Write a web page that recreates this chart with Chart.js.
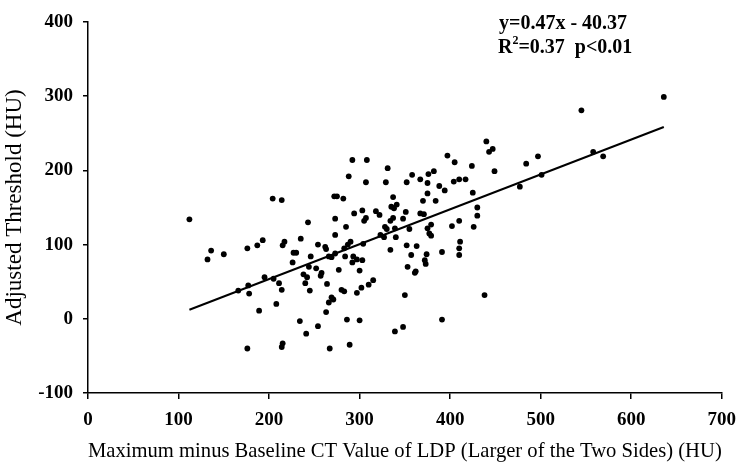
<!DOCTYPE html>
<html>
<head>
<meta charset="utf-8">
<script src="https://cdn.jsdelivr.net/npm/chart.js@4"></script>
<style>
	html, body { margin: 0; padding: 0; background: #fff; }
	#wrap { width: 746px; height: 468px; }
</style>
</head>
<body>
<div id="wrap"><canvas id="chart" width="746" height="468"></canvas></div>
<script>
// values, point by point
const xValues = [
	112, 136, 132, 150, 176, 187, 166, 177, 178, 189, 176,
	292, 308, 397, 405, 331, 288, 307, 329, 352, 358, 367, 376, 382, 375, 388, 394, 404,
	204, 214, 272, 275, 282, 337, 375, 370, 384,
	335, 338, 341, 294, 303, 307, 305, 318, 322,
	273, 243, 337, 334, 348, 351, 367, 371,
	379, 402, 285, 273, 328, 330, 323, 327, 339, 340, 355, 375, 377, 379,
	235, 193, 217, 215, 254, 262, 263, 290, 287, 283, 304, 334, 352, 363, 391,
	227, 230, 246, 266, 269, 273, 284, 293, 297, 303, 292, 357, 374, 372, 373,
	226, 244, 252, 258, 257, 277, 300, 353, 362, 361,
	195, 205, 211, 214, 238, 242, 240, 245, 264, 280, 283, 297, 302, 310, 315,
	269, 266, 271, 208, 263, 350, 234, 254, 241, 286, 300, 339, 348, 391, 215, 214, 267, 289,
	545, 440, 447, 443, 424, 449, 484, 497, 410, 417, 425, 430, 430, 426, 410, 411, 410, 410, 438, 477, 501, 558, 569, 636
]
const yValues = [
	134, 92, 80, 87, 95, 99, 38, 45, 34, 11, -40,
	214, 214, 220, 211, 203, 192, 184, 184, 184, 194, 188, 195, 199, 183, 179, 173, 185,
	162, 160, 165, 165, 162, 164, 169, 159, 159,
	151, 149, 154, 142, 146, 136, 132, 145, 140,
	135, 130, 136, 132, 135, 144, 142, 141,
	127, 125, 124, 113, 124, 121, 113, 110, 122, 110, 121, 122, 115, 112,
	108, 106, 104, 99, 100, 97, 94, 104, 100, 95, 101, 93, 99, 98, 90,
	89, 89, 84, 84, 83, 88, 84, 84, 80, 79, 76, 86, 87, 79, 74,
	76, 70, 68, 62, 58, 66, 65, 70, 64, 62,
	56, 54, 48, 39, 60, 56, 48, 38, 47, 39, 37, 35, 42, 46, 52,
	29, 22, 26, 20, 9, 32, -3, -10, -20, -1, -2, -17, -11, -1, -33, -38, -40, -35,
	281, 239, 229, 225, 206, 199, 209, 219, 188, 188, 170, 150, 139, 124, 132, 104, 95, 86, 32, 178, 194, 225, 219, 299
]

// fitted line as printed on the chart
const slope = 0.47
const intercept = -40.37
const equationText = "y=0.47x - 40.37"
const statsText = ["R", "2", "=0.37  p<0.01"]

const xTicks = [0, 100, 200, 300, 400, 500, 600, 700]
const yTicks = [-100, 0, 100, 200, 300, 400]

const serif = "'Liberation Serif', 'Times New Roman', serif"

var points = xValues.map((x, i) => ({ x: x, y: yValues[i] }))
var xMin = Math.min(...xValues)
var xMax = Math.max(...xValues)
var fitLine = [
	{ x: xMin, y: slope * xMin + intercept },
	{ x: xMax, y: slope * xMax + intercept },
]

const equationPlugin = {
	id: 'equation',
	afterDraw(chart) {
		const ctx = chart.ctx
		ctx.save()
		ctx.fillStyle = '#000'
		ctx.textBaseline = 'alphabetic'
		ctx.font = 'bold 20px ' + serif
		ctx.fillText(equationText, 499, 29)
		var x = 498
		ctx.fillText(statsText[0], x, 53)
		x += ctx.measureText(statsText[0]).width
		ctx.font = 'bold 12px ' + serif
		ctx.fillText(statsText[1], x, 44)
		x += ctx.measureText(statsText[1]).width
		ctx.font = 'bold 20px ' + serif
		ctx.fillText(statsText[2], x, 53)
		ctx.restore()
	}
}

new Chart(document.getElementById("chart"), {
	type: 'scatter',
	data: {
		datasets: [{
			label: 'LDP',
			data: points,
			backgroundColor: '#000',
			borderColor: '#000',
			pointRadius: 2.9,
			pointHoverRadius: 2.9,
			borderWidth: 0,
		}, {
			type: 'line',
			label: 'Fit',
			data: fitLine,
			borderColor: '#000',
			borderWidth: 2,
			pointRadius: 0,
			fill: false,
		}],
	},
	options: {
		animation: false,
		responsive: false,
		devicePixelRatio: 1,
		layout: {
			padding: { left: 0, right: 18, top: 22, bottom: 0 },
		},
		plugins: {
			legend: { display: false },
			tooltip: { enabled: false },
		},
		scales: {
			x: {
				type: 'linear',
				min: 0,
				max: 700,
				afterBuildTicks: (axis) => { axis.ticks = xTicks.map(v => ({ value: v })) },
				afterFit: (axis) => { axis.height = 75 },
				grid: { drawOnChartArea: false, drawTicks: true, tickLength: 6, color: '#000', lineWidth: 1.5 },
				border: { display: true, color: '#000', width: 1.5 },
				ticks: { color: '#000', padding: 10, font: { family: serif, size: 19, weight: 'bold' } },
				title: {
					display: true,
					text: 'Maximum minus Baseline CT Value of LDP (Larger of the Two Sides) (HU)',
					color: '#000',
					font: { family: serif, size: 22 },
					padding: { top: 0, bottom: 4 },
				},
			},
			y: {
				type: 'linear',
				min: -100,
				max: 400,
				afterBuildTicks: (axis) => { axis.ticks = yTicks.map(v => ({ value: v })) },
				afterFit: (axis) => { axis.width = 88 },
				grid: { drawOnChartArea: false, drawTicks: true, tickLength: 5, color: '#000', lineWidth: 1.5 },
				border: { display: true, color: '#000', width: 1.5 },
				ticks: { color: '#000', padding: 10, font: { family: serif, size: 19, weight: 'bold' } },
				title: {
					display: true,
					text: 'Adjusted Threshold (HU)',
					color: '#000',
					font: { family: serif, size: 23 },
					padding: { top: 1, bottom: 0 },
				},
			},
		},
	},
	plugins: [equationPlugin],
});
</script>
</body>
</html>
